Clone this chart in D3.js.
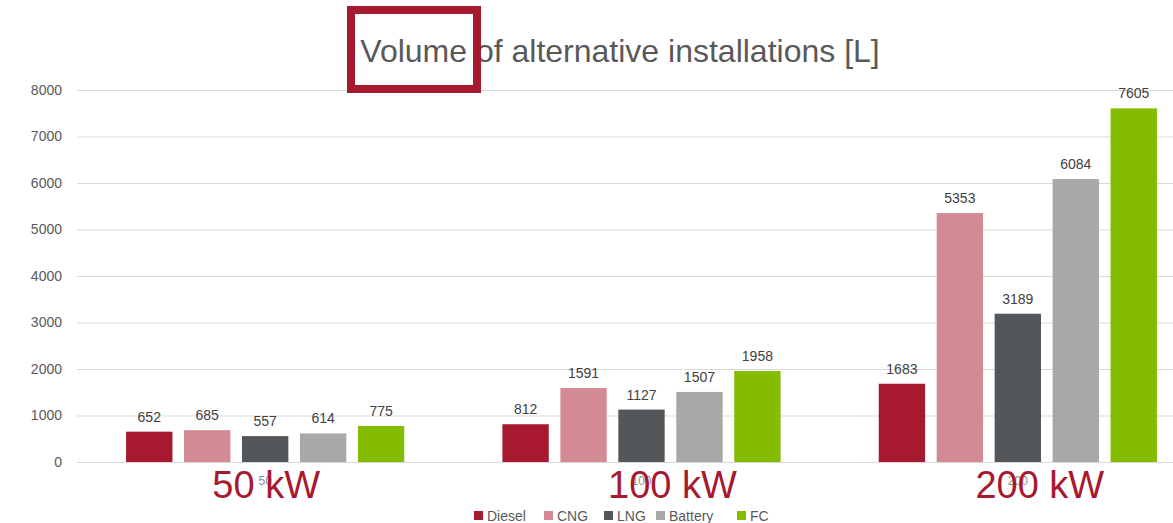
<!DOCTYPE html>
<html>
<head>
<meta charset="utf-8">
<script src="https://cdn.jsdelivr.net/npm/d3@7"></script>
<style>
  body { margin: 0; background: #fff; }
  svg { display: block; font-family: "Liberation Sans", Arial, sans-serif; }
</style>
</head>
<body>
<div id="chart"></div>
<script>
const groups = ["50", "100", "200"];
const groupLabels = ["50 kW", "100 kW", "200 kW"];
const series = ["Diesel", "CNG", "LNG", "Battery", "FC"];
const colors = ["#a6192e", "#d48a93", "#53575a", "#a7a8aa", "#84bd00"];
const diesel = [652, 812, 1683];
const cng = [685, 1591, 5353];
const lng = [557, 1127, 3189];
const battery = [614, 1507, 6084];
const fc = [775, 1958, 7605];
const yTicks = [0, 1000, 2000, 3000, 4000, 5000, 6000, 7000, 8000];

const values = [diesel, cng, lng, battery, fc];
const data = [];
groups.forEach((g, i) => {
  series.forEach((s, j) => data.push({group: g, key: s, value: values[j][i]}));
});

const width = 1173;
const height = 523;
const marginTop = 90;
const marginBottom = 61;
const marginLeft = 77;

// the big "kW" labels are placed by hand over the axis, a bit off-centre
const labelShift = [1, 31, 22];

const svg = d3.select("#chart").append("svg")
    .attr("width", width)
    .attr("height", height)
    .attr("viewBox", [0, 0, width, height]);

const fx = d3.scaleBand()
    .domain(groups)
    .range([marginLeft, 1206])
    .paddingInner(0.23)
    .paddingOuter(0.115);

const x = d3.scaleBand()
    .domain(series)
    .range([0, fx.bandwidth()])
    .paddingInner(0.2)
    .paddingOuter(0.1);

const y = d3.scaleLinear()
    .domain([0, 8000])
    .range([height - marginBottom, marginTop]);

const color = d3.scaleOrdinal().domain(series).range(colors);

// grid + y labels
svg.append("g")
    .attr("transform", `translate(${marginLeft},0)`)
    .call(d3.axisLeft(y).tickValues(yTicks).tickFormat(d3.format("d"))
        .tickSize(-(width - marginLeft)).tickPadding(15))
    .call(g => g.select(".domain").remove())
    .call(g => g.selectAll(".tick line").attr("stroke", "#d9d9d9").attr("stroke-width", 1))
    .call(g => g.selectAll(".tick text").attr("fill", "#595959").attr("font-size", 14)
        .attr("font-family", "Liberation Sans, Arial, sans-serif"));

// bars
const gg = svg.append("g")
  .selectAll()
  .data(d3.group(data, d => d.group))
  .join("g")
    .attr("transform", ([g]) => `translate(${fx(g)},0)`);

gg.selectAll("rect")
  .data(([, d]) => d)
  .join("rect")
    .attr("x", d => x(d.key))
    .attr("y", d => y(d.value))
    .attr("width", x.bandwidth())
    .attr("height", d => y(0) - y(d.value))
    .attr("fill", d => color(d.key));

gg.selectAll("text")
  .data(([, d]) => d)
  .join("text")
    .attr("x", d => x(d.key) + x.bandwidth() / 2)
    .attr("y", d => y(d.value) - 10)
    .attr("text-anchor", "middle")
    .attr("fill", "#404040")
    .attr("font-size", 14)
    .text(d => d.value);

// small x axis labels
svg.append("g")
    .attr("transform", `translate(0,${y(0)})`)
    .call(d3.axisBottom(fx).tickSize(0).tickPadding(14))
    .call(g => g.select(".domain").remove())
    .call(g => g.selectAll(".tick text").attr("fill", "#8c8c8c").attr("font-size", 12)
        .attr("font-family", "Liberation Sans, Arial, sans-serif"));

// overlaid big group labels
svg.append("g")
  .selectAll("text")
  .data(groups)
  .join("text")
    .attr("x", (g, i) => fx(g) + fx.bandwidth() / 2 + labelShift[i])
    .attr("y", 498)
    .attr("text-anchor", "middle")
    .attr("fill", "#a6192e")
    .attr("font-size", 38)
    .text((g, i) => groupLabels[i]);

// title
svg.append("text")
    .attr("x", 620)
    .attr("y", 62)
    .attr("text-anchor", "middle")
    .attr("fill", "#595959")
    .attr("font-size", 32)
    .text("Volume of alternative installations [L]");

// highlight box
svg.append("rect")
    .attr("x", 351)
    .attr("y", 10)
    .attr("width", 126)
    .attr("height", 79)
    .attr("fill", "none")
    .attr("stroke", "#a6192e")
    .attr("stroke-width", 8);

// legend
const legendX = [474, 544, 604, 656, 737];
const legend = svg.append("g")
  .selectAll("g")
  .data(series)
  .join("g")
    .attr("transform", (d, i) => `translate(${legendX[i]},511)`);

legend.append("rect")
    .attr("width", 9)
    .attr("height", 9)
    .attr("fill", d => color(d));

legend.append("text")
    .attr("x", 13)
    .attr("y", 10)
    .attr("fill", "#595959")
    .attr("font-size", 14)
    .text(d => d);
</script>
</body>
</html>
